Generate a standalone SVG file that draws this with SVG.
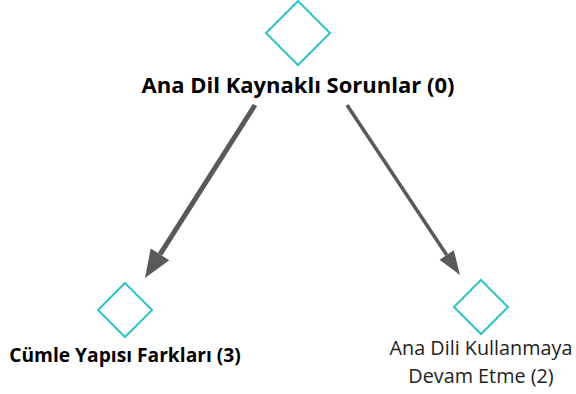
<svg xmlns="http://www.w3.org/2000/svg" width="576" height="394" viewBox="0 0 576 394">
<style>
.node{fill:#ffffff;stroke:#2ec4c4;stroke-width:2}
.edge{stroke:#595959;fill:none}
.head{fill:#595959}
.lb{font-family:"Open Sans","Noto Sans",sans-serif;font-weight:bold;fill:#000;text-anchor:middle}
.lr{font-family:"Open Sans","Noto Sans",sans-serif;fill:#222;text-anchor:middle}
</style>
<rect width="576" height="394" fill="#ffffff"/>
<g id="connectors">
<line class="edge" x1="255" y1="105" x2="160" y2="254.4" stroke-width="5"/>
<polygon class="head" points="145,278 169.3,260.3 150.7,248.5"/>
<line class="edge" x1="347" y1="105" x2="446.7" y2="255" stroke-width="3.5"/>
<polygon class="head" points="460,275 439.6,259.7 453.8,250.3"/>
</g>
<g id="node-root">
<polygon class="node" points="298,1 330,33 298,65 266,33"/>
<text class="lb" x="298" y="93" font-size="22">Ana Dil Kaynaklı Sorunlar (0)</text>
</g>
<g id="node-cumle">
<polygon class="node" points="125,283 152,310 125,337 98,310"/>
<text class="lb" x="125" y="362" font-size="19.2">Cümle Yapısı Farkları (3)</text>
</g>
<g id="node-anadili">
<polygon class="node" points="481,280 508,307 481,334 454,307"/>
<text class="lr" font-size="19.8"><tspan x="481" y="355">Ana Dili Kullanmaya</tspan><tspan x="481" y="383">Devam Etme (2)</tspan></text>
</g>
</svg>
